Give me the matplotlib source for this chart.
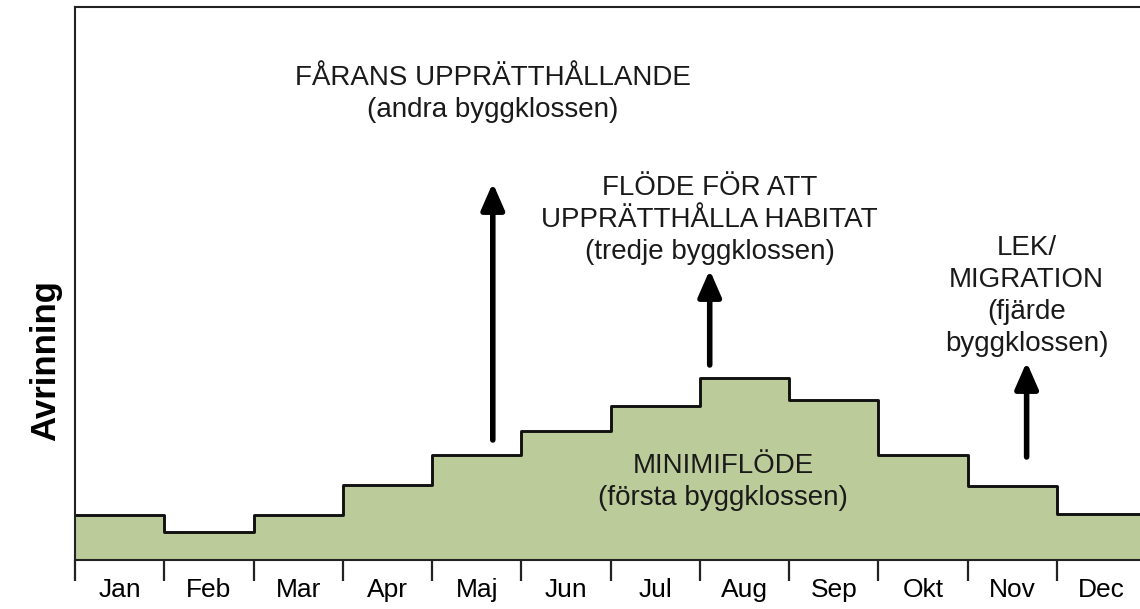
import numpy as np
import matplotlib.pyplot as plt

plt.rcParams['font.family'] = ['Liberation Sans', 'DejaVu Sans']

# monthly minimum flow (relative units)
months = ['Jan', 'Feb', 'Mar', 'Apr', 'Maj', 'Jun', 'Jul', 'Aug', 'Sep', 'Okt', 'Nov', 'Dec']
min_flow = [45, 28, 45, 75, 105, 129, 154, 182, 160, 105, 74, 46]

# arrows: (x in months, start, end)
arrows = [(4.68, 120, 377), (7.11, 195, 290), (10.66, 103, 198)]

labels = [
    (4.68, 466, 'FÅRANS UPPRÄTTHÅLLANDE\n(andra byggklossen)'),
    (7.11, 340, 'FLÖDE FÖR ATT\nUPPRÄTTHÅLLA HABITAT\n(tredje byggklossen)'),
    (10.66, 264, 'LEK/\nMIGRATION\n(fjärde\nbyggklossen)'),
    (7.26, 78, 'MINIMIFLÖDE\n(första byggklossen)'),
]

fig = plt.figure(figsize=(11.4, 6.09), dpi=100)
ax = fig.add_axes([75 / 1140, 49 / 609, 12 * 89.27 / 1140, 553 / 609])

edges = np.arange(len(months) + 1)
y_step = np.append(min_flow, min_flow[-1])
ax.fill_between(edges, y_step, 0, step='post', color='#bccb9a', lw=0)
ax.step(edges, y_step, where='post', color='#111111', lw=2.1)

for x, y0, y1 in arrows:
    ax.annotate('', xy=(x, y1), xytext=(x, y0),
                arrowprops=dict(arrowstyle='-|>,head_length=0.8,head_width=0.35',
                                lw=4, color='black', mutation_scale=20,
                                shrinkA=0, shrinkB=0))

for x, y, txt in labels:
    ax.text(x, y, txt, ha='center', va='center', fontsize=20,
            linespacing=1.3, color='#1a1a1a')

ax.set_xlim(0, 12)
ax.set_ylim(0, 553)
ax.set_yticks([])
ax.set_xticks(edges)
ax.set_xticklabels([])
ax.set_xticks(np.arange(len(months)) + 0.5, minor=True)
ax.set_xticklabels(months, minor=True, fontsize=19)
ax.tick_params(axis='x', which='major', direction='out', length=15, width=1.6, color='#222222')
ax.tick_params(axis='x', which='minor', length=0, pad=13)

for s in ['left', 'top', 'bottom']:
    ax.spines[s].set_linewidth(1.5)
    ax.spines[s].set_color('#222222')
ax.spines['right'].set_visible(False)

ax.set_ylabel('Avrinning', fontsize=25, fontweight='bold')
ax.yaxis.set_label_coords(-0.012, 0.36)

fig.savefig('out.png', dpi=100)
